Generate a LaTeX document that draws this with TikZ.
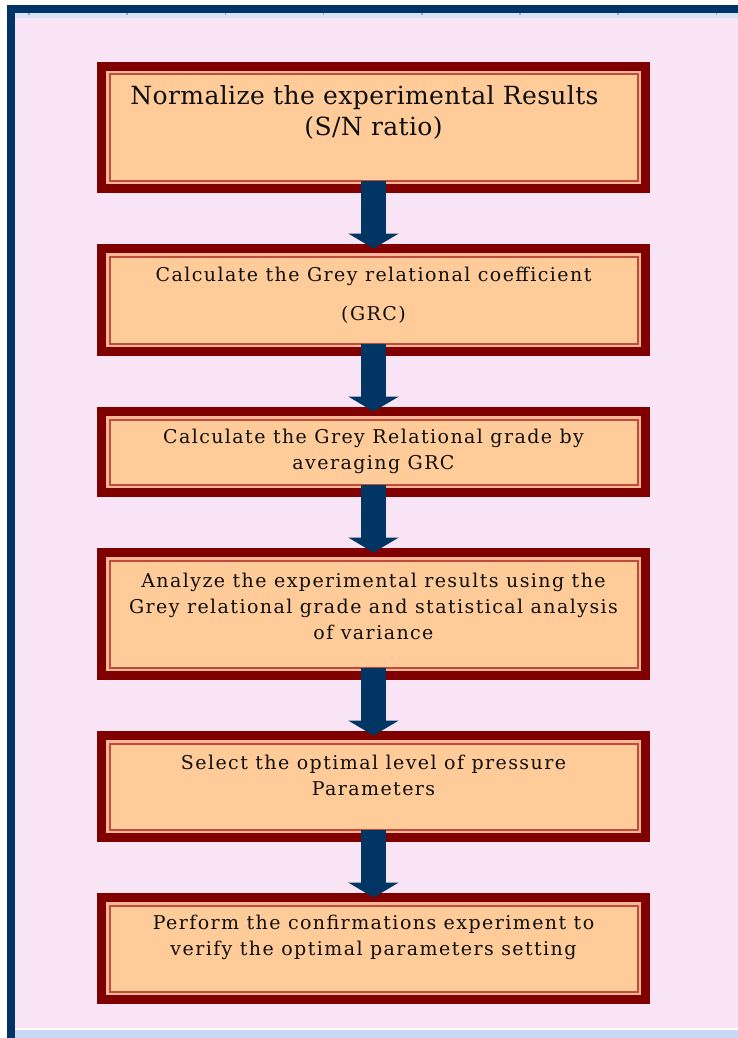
\documentclass[tikz,border=0pt]{standalone}
\usepackage{fontspec}
\setmainfont{DejaVu Serif}
\newfontfamily\stepfont[LetterSpace=7.5]{DejaVu Serif}
\newfontfamily\headfont[LetterSpace=1.5]{DejaVu Serif}
\usetikzlibrary{arrows.meta}
\definecolor{bgpink}{RGB}{249,228,245}
\definecolor{frameblue}{RGB}{0,51,102}
\definecolor{stripblue}{RGB}{214,228,247}
\definecolor{bottomblue}{RGB}{201,216,245}
\definecolor{peach}{RGB}{255,204,153}
\definecolor{boxred}{RGB}{128,0,0}
\definecolor{lightline}{RGB}{244,184,150}
\definecolor{innerred}{RGB}{190,75,60}
\definecolor{arrowblue}{RGB}{0,53,100}
\definecolor{textgray}{RGB}{15,15,15}
\begin{document}
\begin{tikzpicture}[x=1pt,y=-1pt,
  flowbox/.style={rectangle, fill=peach, draw=boxred, line width=9pt, outer sep=0pt, inner sep=0pt,
    minimum width=544pt,
    path picture={
      \draw[draw=lightline, line width=2.5pt]
        ([shift={(5.75pt,5.75pt)}]path picture bounding box.south west) rectangle
        ([shift={(-5.75pt,-5.75pt)}]path picture bounding box.north east);
      \draw[draw=innerred, line width=2pt]
        ([shift={(8pt,8pt)}]path picture bounding box.south west) rectangle
        ([shift={(-8pt,-8pt)}]path picture bounding box.north east);
    }},
  txt/.style={align=center, text=textgray, inner sep=0pt, font=\stepfont\fontsize{19}{26}\selectfont},
  bigtxt/.style={align=center, text=textgray, inner sep=0pt, font=\headfont\fontsize{25}{31}\selectfont},
  blockarrow/.style={draw=arrowblue, line width=25pt, -{Triangle[width=50pt,length=15pt]}}
]
\useasboundingbox (0,0) rectangle (738,1038);
\fill[white] (0,0) rectangle (738,1038);
% background panel
\fill[bgpink] (15,17.7) rectangle (738,1028);
\fill[frameblue] (7,5) rectangle (738,12.7);
\fill[stripblue] (15,12.7) rectangle (738,17.7);
\foreach \i in {0,...,7} {\fill[gray!70] (29+98.2*\i-0.8,12.9) rectangle (29+98.2*\i+0.8,14.6);}
\fill[frameblue] (7,5) rectangle (15,1038);
\fill[white!95!yellow] (15,1028) rectangle (738,1030);
\fill[bottomblue] (15,1030) rectangle (738,1038);

% boxes
\node[flowbox, minimum height=122pt] (b1) at (373.5,127.5) {};
\node[flowbox, minimum height=103pt] (b2) at (373.5,300) {};
\node[flowbox, minimum height=81pt]  (b3) at (373.5,452) {};
\node[flowbox, minimum height=123pt] (b4) at (373.5,614) {};
\node[flowbox, minimum height=102pt] (b5) at (373.5,786.5) {};
\node[flowbox, minimum height=102pt] (b6) at (373.5,948.5) {};

% texts
\node[bigtxt] (t1) at (373.5,112.5) {Normalize the experimental Results\hspace*{18pt}\\(S/N ratio)};
\node[txt] (t2) at (373.5,295.5) {Calculate the Grey relational coefficient\\[13pt](GRC)};
\node[txt] (t3) at (373.5,451) {Calculate the Grey Relational grade by\\averaging GRC};
\node[txt] (t4) at (373.5,606) {Analyze the experimental results using the\\Grey relational grade and statistical analysis\\of variance};
\node[txt] (t5) at (373.5,775) {Select the optimal level of pressure\\Parameters};
\node[txt] (t6) at (373.5,937) {Perform the confirmations experiment to\\verify the optimal parameters setting};

% arrows
\draw[blockarrow] ([yshift=8pt]b1.south) -- (b2.north);
\draw[blockarrow] ([yshift=8pt]b2.south) -- (b3.north);
\draw[blockarrow] ([yshift=8pt]b3.south) -- (b4.north);
\draw[blockarrow] ([yshift=8pt]b4.south) -- (b5.north);
\draw[blockarrow] ([yshift=8pt]b5.south) -- (b6.north);
\end{tikzpicture}
\end{document}
